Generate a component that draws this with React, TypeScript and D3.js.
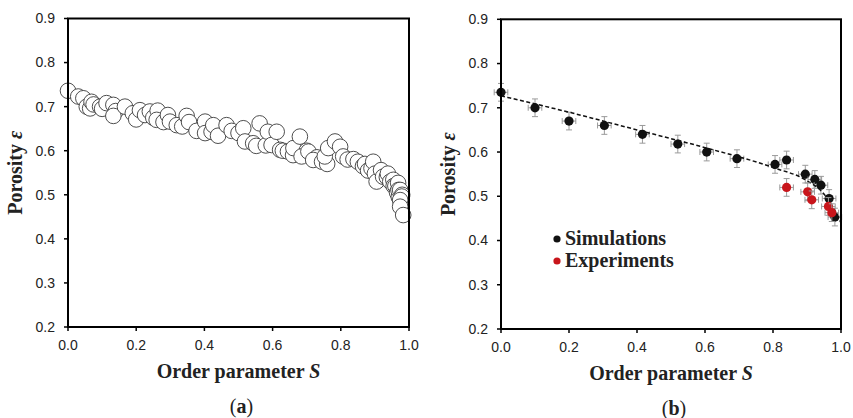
import React from "react";
import * as d3 from "d3";

// panel (a): porosity vs order parameter, many overlapping samples
const orderS = [
  0.0, 0.03, 0.045, 0.055, 0.065, 0.069, 0.075, 0.094, 0.1, 0.113, 0.133, 0.14, 0.133, 0.167,
  0.19, 0.2, 0.211, 0.226, 0.24, 0.25, 0.263, 0.26, 0.28, 0.293, 0.299, 0.319, 0.335, 0.348,
  0.355, 0.377, 0.402, 0.402, 0.421, 0.426, 0.44, 0.465, 0.48, 0.5, 0.514, 0.519, 0.543, 0.552,
  0.58, 0.562, 0.586, 0.597, 0.612, 0.622, 0.63, 0.645, 0.66, 0.661, 0.68, 0.7, 0.685, 0.705,
  0.73, 0.719, 0.745, 0.76, 0.753, 0.763, 0.783, 0.798, 0.807, 0.82, 0.837, 0.85, 0.865, 0.871,
  0.88, 0.89, 0.895, 0.9, 0.905, 0.918, 0.924, 0.935, 0.938, 0.945, 0.954, 0.955, 0.96, 0.965,
  0.968, 0.97, 0.969, 0.974, 0.977, 0.98, 0.979, 0.974, 0.974, 0.983,
];
const porosity = [
  0.736, 0.723, 0.719, 0.7, 0.696, 0.711, 0.705, 0.7, 0.695, 0.708, 0.704, 0.69, 0.679, 0.7,
  0.685, 0.671, 0.692, 0.681, 0.689, 0.675, 0.691, 0.67, 0.665, 0.681, 0.666, 0.658, 0.655, 0.679,
  0.665, 0.645, 0.666, 0.64, 0.643, 0.658, 0.634, 0.658, 0.645, 0.64, 0.651, 0.621, 0.617, 0.611,
  0.612, 0.662, 0.643, 0.613, 0.643, 0.602, 0.6, 0.598, 0.59, 0.606, 0.632, 0.6, 0.587, 0.598,
  0.585, 0.579, 0.575, 0.57, 0.587, 0.606, 0.621, 0.609, 0.587, 0.58, 0.581, 0.575, 0.565, 0.57,
  0.555, 0.56, 0.575, 0.548, 0.53, 0.556, 0.541, 0.54, 0.548, 0.53, 0.534, 0.52, 0.52, 0.505,
  0.527, 0.495, 0.511, 0.511, 0.48, 0.5, 0.496, 0.488, 0.473, 0.454,
];

// panel (b): simulations, experiments and dashed fit
const simS = [0.0, 0.1, 0.2, 0.304, 0.416, 0.52, 0.605, 0.694, 0.806, 0.84, 0.895, 0.923, 0.941, 0.965, 0.982];
const simEps = [0.735, 0.7, 0.67, 0.66, 0.64, 0.618, 0.6, 0.585, 0.572, 0.582, 0.55, 0.538, 0.525, 0.495, 0.453];
const expS = [0.84, 0.902, 0.914, 0.963, 0.973];
const expEps = [0.52, 0.51, 0.492, 0.477, 0.463];
const fitS = [0.0, 0.2, 0.4, 0.6, 0.8, 0.9, 0.95, 0.98, 1.0];
const fitEps = [0.727, 0.69, 0.65, 0.61, 0.565, 0.535, 0.505, 0.47, 0.44];
const errS = 0.02;
const errEps = 0.02;

const xTicks = [0.0, 0.2, 0.4, 0.6, 0.8, 1.0];
const yTicks = [0.2, 0.3, 0.4, 0.5, 0.6, 0.7, 0.8, 0.9];
const legendLabels = ["Simulations", "Experiments"];

const SANS = "'Liberation Sans', Arial, sans-serif";
const SERIF = "'Liberation Serif', 'Times New Roman', serif";
const RED = "#c8151b";

type Scales = { x: d3.ScaleLinear<number, number>; y: d3.ScaleLinear<number, number> };

function Panel(props: {
  left: number;
  right: number;
  top: number;
  bottom: number;
  label: string;
  children: (s: Scales) => React.ReactNode;
}) {
  const { left, right, top, bottom, label } = props;
  const x = d3.scaleLinear().domain([0, 1]).range([left, right]);
  const y = d3.scaleLinear().domain([0.2, 0.9]).range([bottom, top]);
  const cx = (left + right) / 2;
  const cy = (top + bottom) / 2;
  return (
    <g>
      {props.children({ x, y })}
      <rect x={left} y={top} width={right - left} height={bottom - top} fill="none" stroke="#000" strokeWidth={2} />
      {yTicks.map((t) => (
        <g key={"y" + t}>
          <line x1={left - 4} x2={left} y1={y(t)} y2={y(t)} stroke="#000" strokeWidth={1.5} />
          <text x={left - 13} y={y(t)} dy="0.35em" textAnchor="end" fontFamily={SANS} fontSize={14} fill="#222">
            {d3.format(".1f")(t)}
          </text>
        </g>
      ))}
      {xTicks.map((t) => (
        <g key={"x" + t}>
          <line x1={x(t)} x2={x(t)} y1={bottom} y2={bottom + 4} stroke="#000" strokeWidth={1.5} />
          <text x={x(t)} y={bottom + 23} textAnchor="middle" fontFamily={SANS} fontSize={14} fill="#222">
            {d3.format(".1f")(t)}
          </text>
        </g>
      ))}
      <text x={cx} y={bottom + 51} textAnchor="middle" fontFamily={SERIF} fontWeight="bold" fontSize={20} fill="#222">
        Order parameter <tspan fontStyle="italic">S</tspan>
      </text>
      <text
        transform={`translate(${left - 46},${cy}) rotate(-90)`}
        textAnchor="middle"
        fontFamily={SERIF}
        fontWeight="bold"
        fontSize={20}
        fill="#222"
      >
        Porosity <tspan fontStyle="italic">ε</tspan>
      </text>
      <text x={cx + 3} y={bottom + 86} textAnchor="middle" fontFamily={SERIF} fontSize={20} fill="#222">
        (<tspan fontWeight="bold">{label}</tspan>)
      </text>
    </g>
  );
}

function ErrorPoint({ s, e, sc, fill }: { s: number; e: number; sc: Scales; fill: string }) {
  const px = sc.x(s);
  const py = sc.y(e);
  const x0 = sc.x(s - errS);
  const x1 = sc.x(s + errS);
  const y0 = sc.y(e - errEps);
  const y1 = sc.y(e + errEps);
  const g = "#9a9a9a";
  return (
    <g>
      <line x1={x0} x2={x1} y1={py} y2={py} stroke={g} strokeWidth={1} />
      <line x1={x0} x2={x0} y1={py - 3} y2={py + 3} stroke={g} strokeWidth={1} />
      <line x1={x1} x2={x1} y1={py - 3} y2={py + 3} stroke={g} strokeWidth={1} />
      <line x1={px} x2={px} y1={y0} y2={y1} stroke={g} strokeWidth={1} />
      <line x1={px - 3} x2={px + 3} y1={y0} y2={y0} stroke={g} strokeWidth={1} />
      <line x1={px - 3} x2={px + 3} y1={y1} y2={y1} stroke={g} strokeWidth={1} />
      <circle cx={px} cy={py} r={4.6} fill={fill} />
    </g>
  );
}

export default function App() {
  const fitLine = (sc: Scales) =>
    d3
      .line<number>()
      .x((_, i) => sc.x(fitS[i]))
      .y((d) => sc.y(d))
      .curve(d3.curveMonotoneX)(fitEps) || "";

  return (
    <svg width={853} height={418} style={{ position: "absolute", left: 0, top: 0, background: "#fff" }}>
      <Panel left={68} right={409} top={18.5} bottom={327} label="a">
        {(sc) => (
          <g>
            {orderS.map((s, i) => (
              <circle key={i} cx={sc.x(s)} cy={sc.y(porosity[i])} r={7.8} fill="#fff" stroke="#3a3a3a" strokeWidth={0.9} />
            ))}
          </g>
        )}
      </Panel>
      <Panel left={501} right={841} top={19.3} bottom={329} label="b">
        {(sc) => (
          <g>
            {simS.map((s, i) => (
              <ErrorPoint key={"s" + i} s={s} e={simEps[i]} sc={sc} fill="#111" />
            ))}
            <path d={fitLine(sc)} fill="none" stroke="#111" strokeWidth={1.5} strokeDasharray="4,2.5" />
            {expS.map((s, i) => (
              <ErrorPoint key={"e" + i} s={s} e={expEps[i]} sc={sc} fill={RED} />
            ))}
            {legendLabels.map((l, i) => (
              <g key={l}>
                <circle cx={557} cy={239 + i * 22} r={3.6} fill={i === 0 ? "#111" : RED} />
                <text x={565} y={245 + i * 22} fontFamily={SERIF} fontWeight="bold" fontSize={20} fill="#222">
                  {l}
                </text>
              </g>
            ))}
          </g>
        )}
      </Panel>
    </svg>
  );
}
